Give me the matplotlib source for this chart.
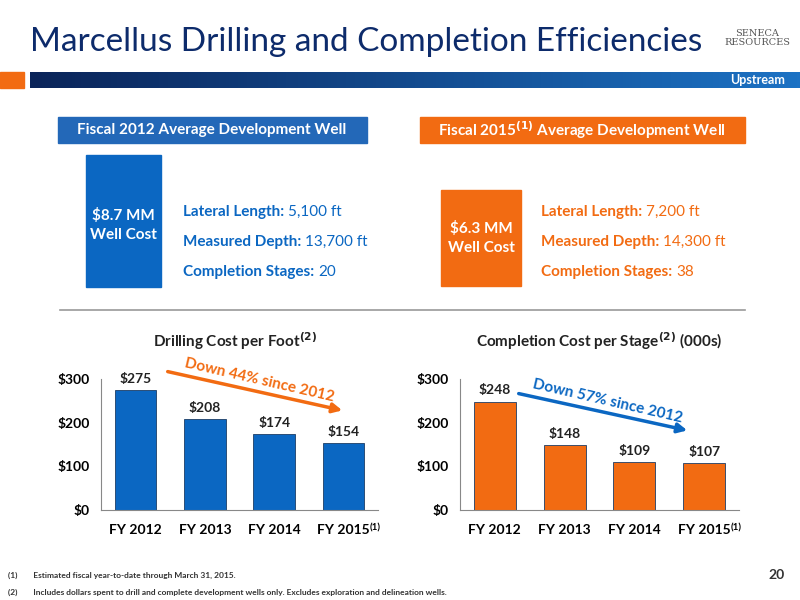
import numpy as np
import matplotlib.pyplot as plt
from matplotlib.patches import Rectangle, FancyArrowPatch

plt.rcParams["font.family"] = ["Lato", "DejaVu Sans"]

years = ["FY 2012", "FY 2013", "FY 2014", "FY 2015"]
drill_cost = [275, 208, 174, 154]
comp_cost = [248, 148, 109, 107]
yticks = [0, 100, 200, 300]

BLUE = "#0b67c2"
ORANGE = "#f26b12"
NAVY = "#0d2b6b"
W, H = 800, 600

fig = plt.figure(figsize=(8, 6), dpi=100)


def fx(x):
    return x / W


def fy(y):
    return 1 - y / H


def txt(x, y, s, **kw):
    fig.text(fx(x), fy(y), s, **kw)


def box(x0, y0, x1, y1, color):
    fig.patches.append(Rectangle((fx(x0), fy(y1)), fx(x1 - x0), (y1 - y0) / H,
                                 transform=fig.transFigure, color=color, zorder=0))


# header
txt(30, 42, "Marcellus Drilling and Completion Efficiencies", fontsize=24,
    color=NAVY, va="center")
txt(757, 38, "SENECA\nRESOURCES", fontsize=7, color="#555555", ha="center",
    va="center", family="DejaVu Serif", linespacing=0.9)
grad = fig.add_axes([fx(30), fy(88), fx(770), 16 / H])
grad.imshow(np.linspace(0, 1, 256).reshape(1, -1), aspect="auto",
            cmap=plt.matplotlib.colors.LinearSegmentedColormap.from_list("g", ["#0a2459", "#1c72c4"]))
grad.axis("off")
box(0, 72, 24, 88, ORANGE)
txt(785, 80, "Upstream", fontsize=9, color="white", ha="right", va="center",
    weight="bold")

# well boxes
box(58, 117, 367, 143, "#2368b8")
txt(212, 130, "Fiscal 2012 Average Development Well", fontsize=11, color="white",
    ha="center", va="center", weight="bold")
box(420, 117, 745, 143, ORANGE)
txt(582, 130, r"Fiscal 2015$^{\mathbf{(1)}}$ Average Development Well", fontsize=11,
    color="white", ha="center", va="center", weight="bold")

box(86, 155, 161, 287, BLUE)
txt(123, 225, "$8.7 MM\nWell Cost", fontsize=11, color="white", ha="center",
    va="center", weight="bold", linespacing=1.4)
box(441, 190, 521, 286, ORANGE)
txt(481, 238, "$6.3 MM\nWell Cost", fontsize=11, color="white", ha="center",
    va="center", weight="bold", linespacing=1.4)

for i, (lab, val) in enumerate([("Lateral Length:", "5,100 ft"),
                                ("Measured Depth:", "13,700 ft"),
                                ("Completion Stages:", "20")]):
    t = fig.text(fx(183), fy(212 + 30 * i), lab + " ", fontsize=11, color=BLUE,
                 weight="bold", va="center")
    fig.canvas.draw()
    bb = t.get_window_extent()
    fig.text(bb.x1 / W, fy(212 + 30 * i), val, fontsize=11, color=BLUE, va="center")
for i, (lab, val) in enumerate([("Lateral Length:", "7,200 ft"),
                                ("Measured Depth:", "14,300 ft"),
                                ("Completion Stages:", "38")]):
    t = fig.text(fx(541), fy(212 + 30 * i), lab + " ", fontsize=11, color=ORANGE,
                 weight="bold", va="center")
    fig.canvas.draw()
    bb = t.get_window_extent()
    fig.text(bb.x1 / W, fy(212 + 30 * i), val, fontsize=11, color=ORANGE, va="center")

fig.add_artist(plt.Line2D([fx(60), fx(745)], [fy(310), fy(310)],
                          color="#9a9a9a", lw=1.2))


def chart(x0, x1, vals, color, title, tx):
    ax = fig.add_axes([fx(x0), fy(510), fx(x1 - x0), (510 - 379) / H])
    x = np.arange(len(years))
    ax.bar(x, vals, width=0.6, color=color, edgecolor="#1d3d66", lw=0.6)
    for xi, v in zip(x, vals):
        ax.text(xi, v + 12, f"${v}", ha="center", va="bottom", fontsize=10,
                weight="bold", color="#222222")
    ax.set_xlim(-0.5, 3.5)
    ax.set_ylim(0, 300)
    ax.set_yticks(yticks)
    ax.set_yticklabels([f"${v}" for v in yticks], fontsize=10, weight="bold")
    ax.set_xticks(x)
    ax.set_xticklabels(years, fontsize=10, weight="bold")
    ax.tick_params(length=0, pad=8)
    ax.tick_params(axis="x", pad=10)
    for s in ["top", "right"]:
        ax.spines[s].set_visible(False)
    ax.spines["left"].set_color("#888888")
    ax.spines["bottom"].set_color("#888888")
    ax.text(3.38, -40, "(1)", fontsize=7, weight="bold", va="center")
    txt(tx, 341, title, fontsize=11, weight="bold", color="#222222", ha="center",
        va="center")
    return ax


chart(101, 378, drill_cost, BLUE, r"Drilling Cost per Foot$^{\mathbf{(2)}}$", 235)
chart(460, 739, comp_cost, ORANGE,
      r"Completion Cost per Stage$^{\mathbf{(2)}}$ (000s)", 599)

for (p0, p1, col, s, lp, rot) in [((165, 371), (345, 411), ORANGE,
                                   "Down 44% since 2012", (260, 380), -13),
                                  ((516, 393), (690, 431), BLUE,
                                   "Down 57% since 2012", (608, 401), -13)]:
    fig.add_artist(FancyArrowPatch((fx(p0[0]), fy(p0[1])), (fx(p1[0]), fy(p1[1])),
                                   transform=fig.transFigure, color=col, lw=2.5,
                                   arrowstyle="-|>", mutation_scale=14))
    txt(lp[0], lp[1], s, fontsize=11, weight="bold", color=col, rotation=rot,
        ha="center", va="center")

txt(8, 575, "(1)        Estimated fiscal year-to-date through March 31, 2015.",
    fontsize=6, weight="bold", color="#333333", va="center")
txt(8, 592, "(2)        Includes dollars spent to drill and complete development wells only. Excludes exploration and delineation wells.",
    fontsize=6, weight="bold", color="#333333", va="center")
txt(785, 575, "20", fontsize=10, weight="bold", ha="right", va="center",
    color="#333333")

fig.savefig("out.png", dpi=100)
